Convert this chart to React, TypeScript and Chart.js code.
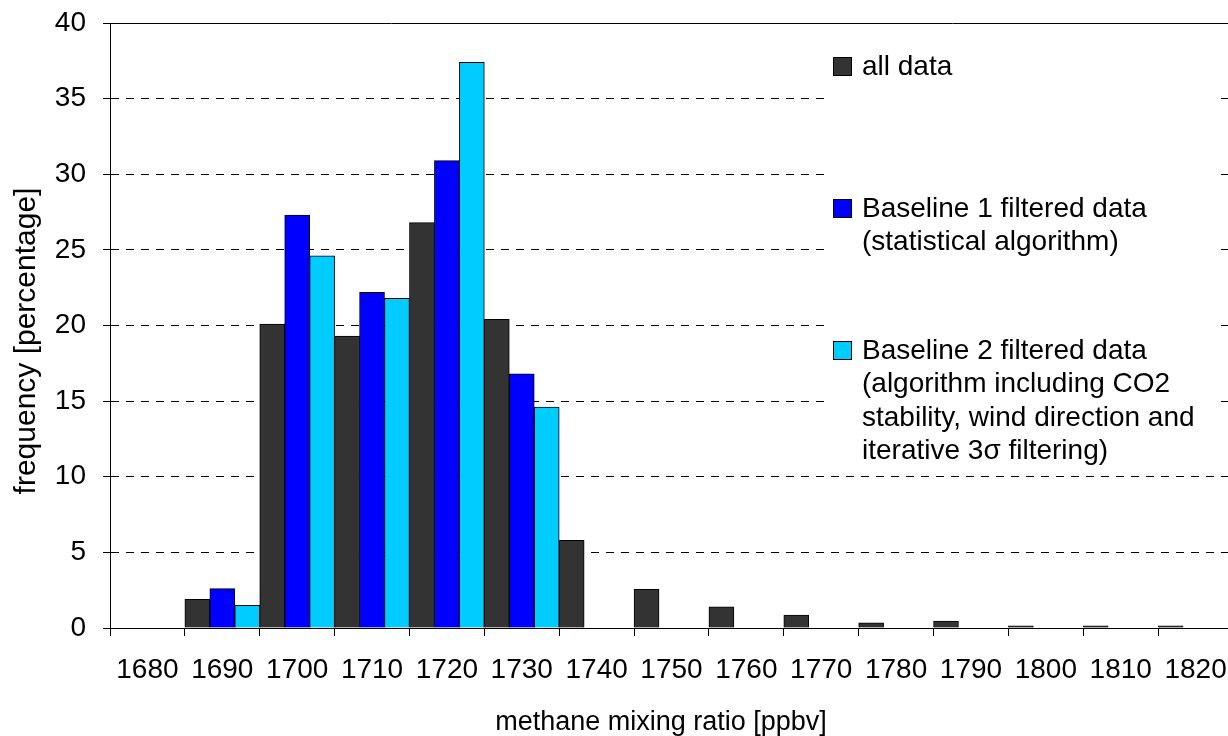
import { useEffect, useRef } from "react";
import { Chart, registerables } from "chart.js";

Chart.register(...registerables);

const FONT = '"Liberation Sans", Arial, Helvetica, sans-serif';

// Bin labels (ppbv)
const categories = [
  "1680", "1690", "1700", "1710", "1720", "1730", "1740", "1750",
  "1760", "1770", "1780", "1790", "1800", "1810", "1820",
];

// Frequencies in percent per bin
const allData = [null, 1.9, 20.1, 19.3, 26.8, 20.4, 5.8, 2.55, 1.4, 0.85, 0.35, 0.45, 0.15, 0.15, 0.15];
const baseline1 = [null, 2.6, 27.3, 22.2, 30.9, 16.8, null, null, null, null, null, null, null, null, null];
const baseline2 = [null, 1.5, 24.6, 21.8, 37.4, 14.6, null, null, null, null, null, null, null, null, null];

const seriesNames = ["all data", "Baseline 1 filtered data", "Baseline 2 filtered data"];
const seriesValues = [allData, baseline1, baseline2];
const seriesColors = ["#333333", "#0000ff", "#00ccff"];

// Multi-line legend captions
const legendCaptions = [
  ["all data"],
  ["Baseline 1 filtered data", "(statistical algorithm)"],
  ["Baseline 2 filtered data", "(algorithm including CO2", "stability, wind direction and", "iterative 3σ filtering)"],
];

const yMin = 0;
const yMax = 40;
const yStep = 5;

const xTitle = "methane mixing ratio [ppbv]";
const yTitle = "frequency [percentage]";

const overlay = {
  id: "overlay",
  afterDraw(chart: Chart) {
    const { ctx } = chart;
    ctx.save();

    // legend panel
    ctx.fillStyle = "#ffffff";
    ctx.fillRect(826, 45, 390, 425);
    ctx.font = `28px ${FONT}`;
    ctx.textAlign = "left";
    ctx.textBaseline = "alphabetic";
    const firstBaselines = [75, 217, 359];
    const lineGap = 33.3;
    legendCaptions.forEach((lines, i) => {
      const b = firstBaselines[i];
      ctx.fillStyle = seriesColors[i];
      ctx.fillRect(834, b - 17, 17, 17);
      ctx.strokeStyle = "#000";
      ctx.lineWidth = 1;
      ctx.strokeRect(833.5, b - 17.5, 18, 18);
      ctx.fillStyle = "#000";
      lines.forEach((t, j) => ctx.fillText(t, 862, b + j * lineGap));
    });

    // axis titles
    ctx.fillStyle = "#000";
    ctx.textAlign = "center";
    ctx.font = `27px ${FONT}`;
    ctx.fillText(xTitle, 661, 730);
    ctx.font = `30px ${FONT}`;
    ctx.translate(35, 341);
    ctx.rotate(-Math.PI / 2);
    ctx.fillText(yTitle, 0, 0);
    ctx.restore();
  },
};

export default function App() {
  const ref = useRef<HTMLCanvasElement>(null);

  useEffect(() => {
    const canvas = ref.current;
    if (!canvas) return;
    Chart.defaults.font.family = FONT;
    const chart = new Chart(canvas, {
      type: "bar",
      data: {
        labels: categories,
        datasets: seriesNames.map((name, i) => ({
          label: name,
          data: seriesValues[i],
          backgroundColor: seriesColors[i],
          borderColor: "#000",
          borderWidth: 1,
          barPercentage: 1,
          categoryPercentage: 1,
        })),
      },
      options: {
        responsive: false,
        animation: false,
        events: [],
        layout: { padding: { top: 23, right: 17, left: 0, bottom: 0 } },
        plugins: { legend: { display: false }, tooltip: { enabled: false } },
        scales: {
          x: {
            grid: {
              display: true,
              drawOnChartArea: false,
              drawTicks: true,
              tickLength: 8,
              color: "#000",
              offset: true,
            },
            border: { display: true, color: "#000", width: 1 },
            ticks: { color: "#000", font: { size: 28 }, padding: 17, maxRotation: 0, autoSkip: false },
            afterFit: (s: any) => {
              s.height = 108;
              s.paddingLeft = 0;
              s.paddingRight = 0;
            },
          },
          y: {
            min: yMin,
            max: yMax,
            ticks: { stepSize: yStep, color: "#000", font: { size: 28 }, padding: 17 },
            grid: { color: "#000", lineWidth: 1, tickLength: 7, tickColor: "#000" },
            border: {
              display: true,
              color: "#000",
              width: 1,
              dash: (c: any) => (c.tick && c.tick.value === yMax ? [] : [8, 7]),
            },
            afterFit: (s: any) => {
              s.width = 110;
              s.paddingTop = 0;
              s.paddingBottom = 0;
            },
          },
        },
      },
      plugins: [overlay],
    });
    return () => chart.destroy();
  }, []);

  return (
    <div style={{ position: "fixed", left: 0, top: 0, width: 1228, height: 736, overflow: "hidden", background: "#fff" }}>
      <canvas ref={ref} width={1250} height={736} style={{ display: "block", width: 1250, height: 736 }} />
    </div>
  );
}
